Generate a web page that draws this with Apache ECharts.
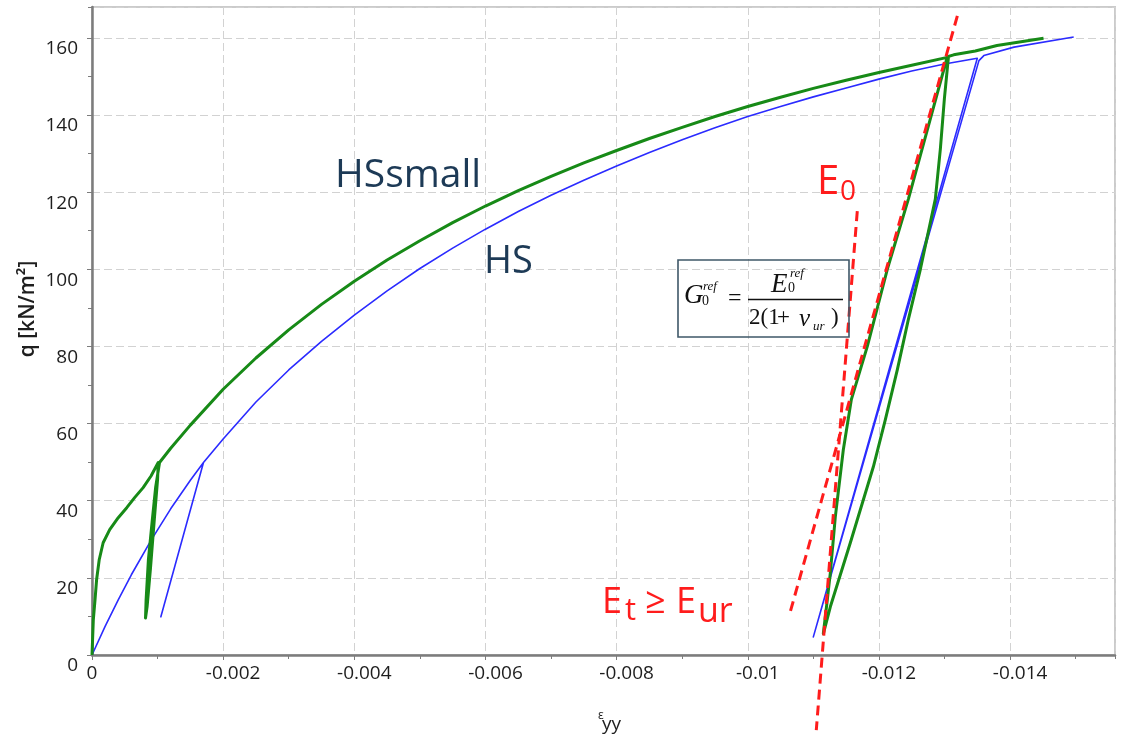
<!DOCTYPE html>
<html>
<head>
<meta charset="utf-8">
<title>HS vs HSsmall – triaxial loading with unloading/reloading</title>
<script src="https://cdn.jsdelivr.net/npm/echarts@6/dist/echarts.min.js"></script>
<style>
  html, body { margin: 0; padding: 0; background: #ffffff; }
  #chart { width: 1127px; height: 743px; }
</style>
</head>
<body>
<div id="chart"></div>
<script>
// Vertical strain eps_yy (compression negative) and deviatoric stress q [kN/m²]

// HSsmall: primary loading, unload/reload at q≈50, loading, unload/reload at q≈155, loading
const hsSmallStrain = [
  0, -0.00002, -0.000046, -0.00007, -0.00011, -0.00017, -0.00027, -0.0004, -0.00053, -0.00065, -0.00078, -0.0009, -0.00101,
  -0.001, -0.00095, -0.00089, -0.00084, -0.000816,
  -0.000825, -0.00086, -0.00092, -0.00097, -0.00103,
  -0.0012, -0.0015, -0.002, -0.0025, -0.003, -0.0035, -0.004, -0.0045, -0.005, -0.0055,
  -0.006, -0.0065, -0.007, -0.0075, -0.008, -0.0085, -0.009, -0.0095, -0.01, -0.0105,
  -0.011, -0.0115, -0.012, -0.0125, -0.01306,
  -0.012998, -0.012937, -0.01286, -0.012632, -0.012449, -0.012281, -0.012098, -0.011915, -0.011564, -0.011259, -0.011152,
  -0.011213, -0.011259, -0.011335, -0.011457, -0.011579, -0.011823, -0.012128, -0.012449, -0.012784, -0.013043,
  -0.01314, -0.01347, -0.0138, -0.01451
];
const hsSmallQ = [
  0, 9.1, 14.3, 19.5, 24.7, 29.1, 32.5, 35.6, 38.2, 40.8, 43.4, 46.4, 49.9,
  45.5, 35.1, 22.1, 12.5, 9.6,
  14.3, 24.7, 35.1, 43.4, 49.9,
  53.6, 59.6, 68.9, 77.0, 84.3, 90.9, 96.9, 102.4, 107.4, 112.1,
  116.4, 120.4, 124.1, 127.6, 130.8, 133.9, 136.8, 139.6, 142.2, 144.6,
  146.9, 149.0, 151.0, 152.9, 155.0,
  144.2, 131.2, 118.2, 100.0, 87.0, 74.0, 61.0, 48.8, 29.1, 12.5, 5.5,
  14.3, 21.3, 35.8, 53.2, 66.2, 80.0, 100.0, 118.2, 139.0, 155.1,
  155.6, 156.6, 158.0, 159.9
];

// HS: primary loading with two elastic unload/reload cycles
const hsStrain = [
  0, -0.0002, -0.0004, -0.0006, -0.0009, -0.0012, -0.0015, -0.0017,
  -0.00105, -0.0017,
  -0.002, -0.0025, -0.003, -0.0035, -0.004, -0.0045, -0.005, -0.0055, -0.006, -0.0065,
  -0.007, -0.0075, -0.008, -0.0085, -0.009, -0.0095, -0.01, -0.0105, -0.011, -0.0115,
  -0.012, -0.0125, -0.013, -0.0135,
  -0.011, -0.013525,
  -0.0136, -0.01406, -0.01497
];
const hsQ = [
  0, 7.4, 14.3, 20.8, 29.7, 37.9, 45.3, 49.9,
  9.9, 49.9,
  56.0, 65.6, 73.9, 81.3, 88.1, 94.4, 100.2, 105.5, 110.4, 115.0,
  119.2, 123.1, 126.8, 130.3, 133.6, 136.7, 139.6, 142.2, 144.7, 147.0,
  149.3, 151.4, 153.2, 154.7,
  4.7, 154.1,
  155.4, 157.6, 160.2
];

// Stiffness guide lines: E0 (small-strain) and Et >= Eur at reloading
const e0Strain = [-0.013196, -0.010648];
const e0Q = [165.7, 11.2];
const etStrain = [-0.01167, -0.011045];
const etQ = [115.1, -19.5];

// Axis tick labels
const xTickLabels = ['0', '-0.002', '-0.004', '-0.006', '-0.008', '-0.01', '-0.012', '-0.014'];
const yTickLabels = ['0', '20', '40', '60', '80', '100', '120', '140', '160'];

// Strain is plotted as its magnitude so that compression grows to the right
const toPoints = (s, q) => s.map((v, i) => [-v, q[i]]);

const FONT = 'Open Sans';
const SERIF = 'Liberation Serif';
const AXIS_GREY = '#7c7c7c';
const LABEL = '#1e1e1e';

const chart = echarts.init(document.getElementById('chart'), null, { renderer: 'canvas' });

function txt(x, y, text, size, color, extra, elProps) {
  return Object.assign({
    type: 'text', x: x, y: y, silent: true, z: 50,
    style: Object.assign({
      text: text, fill: color,
      fontSize: size, fontFamily: FONT,
      align: 'left', verticalAlign: 'middle',
      textAlign: 'left', textVerticalAlign: 'middle'
    }, extra || {})
  }, elProps || {});
}
const serif = (italic) => ({ fontFamily: SERIF, fontStyle: italic ? 'italic' : 'normal' });

const option = {
  animation: false,
  backgroundColor: '#ffffff',
  grid: {
    left: 92, right: 12, top: 7, bottom: 88,
    show: true, borderColor: '#cbcbcb', borderWidth: 2,
    containLabel: false, outerBoundsMode: 'none'
  },
  xAxis: [
    {
      type: 'value', position: 'bottom',
      min: 0, max: 0.0156, interval: 0.002,
      axisLine: { show: true, onZero: false, lineStyle: { color: AXIS_GREY, width: 2.5 } },
      axisTick: { show: true, length: 5, lineStyle: { color: AXIS_GREY, width: 1 } },
      splitLine: { show: true, lineStyle: { color: '#d2d2d2', width: 1, type: [8, 4] } },
      axisLabel: {
        show: true, margin: 9, showMaxLabel: false,
        fontFamily: FONT, fontSize: 19, color: LABEL,
        formatter: function (v) {
          const i = Math.round(v / 0.002);
          if (Math.abs(v - i * 0.002) > 1e-9 || i >= xTickLabels.length) return '';
          return i === 0 ? xTickLabels[0] : '{n|' + xTickLabels[i] + '}';
        },
        rich: { n: { fontFamily: FONT, fontSize: 19, color: LABEL, padding: [0, 0, 0, 20] } }
      }
    },
    {
      type: 'value', position: 'bottom',
      min: 0, max: 0.0156, interval: 0.001,
      axisLine: { show: false },
      axisTick: { show: true, length: 4, lineStyle: { color: AXIS_GREY, width: 1 } },
      splitLine: { show: false },
      axisLabel: { show: false }
    }
  ],
  yAxis: [
    {
      type: 'value', position: 'left',
      min: 0, max: 168, interval: 20,
      axisLine: { show: true, onZero: false, lineStyle: { color: AXIS_GREY, width: 2.5 } },
      axisTick: { show: true, length: 5, lineStyle: { color: AXIS_GREY, width: 1 } },
      splitLine: { show: true, lineStyle: { color: '#d2d2d2', width: 1, type: [8, 4] } },
      axisLabel: {
        show: true, margin: 14, showMaxLabel: false,
        fontFamily: FONT, fontSize: 19, color: LABEL,
        formatter: function (v) {
          const i = Math.round(v / 20);
          return (Math.abs(v - i * 20) < 1e-9 && i < yTickLabels.length) ? '{v|' + yTickLabels[i] + '}' : '';
        },
        rich: { v: { fontFamily: FONT, fontSize: 19, color: LABEL, padding: [22, 0, 0, 0] } }
      }
    },
    {
      type: 'value', position: 'left',
      min: 0, max: 168, interval: 10,
      axisLine: { show: false },
      axisTick: { show: true, length: 4, lineStyle: { color: AXIS_GREY, width: 1 } },
      splitLine: { show: false },
      axisLabel: { show: false }
    }
  ],
  series: [
    {
      name: 'HS', type: 'line', xAxisIndex: 0, yAxisIndex: 0,
      data: toPoints(hsStrain, hsQ),
      symbol: 'none', smooth: false, z: 2,
      lineStyle: { color: '#2b2bff', width: 1.6, join: 'round' }
    },
    {
      name: 'HSsmall', type: 'line', xAxisIndex: 0, yAxisIndex: 0,
      data: toPoints(hsSmallStrain, hsSmallQ),
      symbol: 'none', smooth: false, z: 3,
      lineStyle: { color: '#178a17', width: 3, join: 'round' }
    },
    {
      name: 'E0', type: 'line', xAxisIndex: 0, yAxisIndex: 0,
      data: toPoints(e0Strain, e0Q),
      symbol: 'none', z: 4, clip: false,
      lineStyle: { color: '#ff1c1c', width: 3, type: [10, 6] }
    },
    {
      name: 'Et', type: 'line', xAxisIndex: 0, yAxisIndex: 0,
      data: toPoints(etStrain, etQ),
      symbol: 'none', z: 4, clip: false,
      lineStyle: { color: '#ff1c1c', width: 3, type: [10, 6] }
    }
  ],
  graphic: [
    // y axis title (reads bottom to top)
    txt(28, 309, 'q [kN/m²]', 21, LABEL,
      { fontWeight: 600, align: 'center', textAlign: 'center' },
      { rotation: Math.PI / 2 }),
    // x axis title
    txt(598, 716, 'ε', 12, LABEL),
    txt(602, 725, 'yy', 19, LABEL),
    // curve names
    txt(335, 176, 'HSsmall', 39, '#1d3a56'),
    txt(484, 262, 'HS', 38, '#1d3a56'),
    // stiffness labels
    txt(817, 183, 'E', 40, '#ff1c1c'),
    txt(840, 192, '0', 28, '#ff1c1c'),
    txt(602, 603, 'E', 36, '#ff1c1c'),
    txt(625, 611, 't', 31, '#ff1c1c'),
    txt(645, 603, '≥', 36, '#ff1c1c'),
    txt(676, 603, 'E', 36, '#ff1c1c'),
    txt(698, 612, 'ur', 34, '#ff1c1c'),
    // formula box  G0ref = E0ref / (2(1+ν_ur))
    {
      type: 'rect', z: 40, silent: true,
      shape: { x: 678, y: 260, width: 171, height: 77 },
      style: { fill: 'rgba(0,0,0,0)', stroke: '#3f5868', lineWidth: 1.6 }
    },
    txt(684, 296, 'G', 27, '#111', serif(true)),
    txt(703, 287, 'ref', 13, '#111', serif(true)),
    txt(702, 301, '0', 14, '#111', serif(false)),
    txt(728, 299, '=', 24, '#111', serif(false)),
    {
      type: 'line', z: 40, silent: true,
      shape: { x1: 748, y1: 299.5, x2: 843, y2: 299.5 },
      style: { stroke: '#111', lineWidth: 1.3 }
    },
    txt(771, 285, 'E', 27, '#111', serif(true)),
    txt(790, 274, 'ref', 13, '#111', serif(true)),
    txt(788, 288, '0', 14, '#111', serif(false)),
    txt(749, 318, '2(1', 23, '#111', serif(false)),
    txt(777, 318, '+', 23, '#111', serif(false)),
    txt(799, 319, 'ν', 25, '#111', serif(true)),
    txt(813, 327, 'ur', 13, '#111', serif(true)),
    txt(831, 318, ')', 23, '#111', serif(false))
  ]
};

chart.setOption(option);
</script>
</body>
</html>
